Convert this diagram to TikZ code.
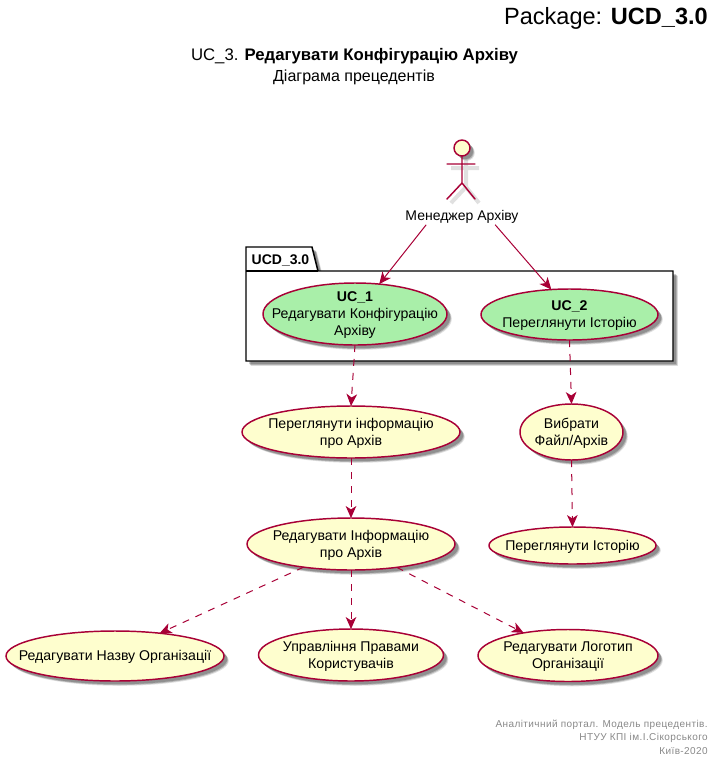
\documentclass[tikz,border=0pt]{standalone}
\usepackage{fontspec}
\setmainfont{Liberation Sans}
\usetikzlibrary{arrows.meta,shapes.geometric,shadows}
\definecolor{pumlred}{HTML}{A80036}
\definecolor{pumlyellow}{HTML}{FEFECE}
\definecolor{pumlgreen}{HTML}{A9EFA9}
\definecolor{footgray}{HTML}{888888}
\tikzset{
  softshadow/.style={
    drop shadow={shadow xshift=3.6pt,shadow yshift=-3.6pt,opacity=.12,fill=black},
    drop shadow={shadow xshift=3pt,shadow yshift=-3pt,opacity=.2,fill=black},
    drop shadow={shadow xshift=2.4pt,shadow yshift=-2.4pt,opacity=.2,fill=black}},
  uctext/.style={inner sep=0pt,align=center,yshift=-.75pt,font=\fontsize{10.6pt}{12.6pt}\selectfont},
  uc/.style 2 args={ellipse,draw=pumlred,line width=1.1pt,fill=pumlyellow,softshadow,
    inner sep=0pt,outer sep=0pt,minimum width=#1*1.5pt,minimum height=#2*1.5pt},
  ucgreen/.style={fill=pumlgreen},
  rel/.style={draw=pumlred,line width=.75pt,-{Stealth[length=9pt,width=8pt,inset=2.6pt,fill=pumlred]}},
  reldash/.style={rel,dash pattern=on 5.25pt off 5.25pt},
  plain/.style={inner sep=0pt,align=center,font=\fontsize{10.5pt}{12.6pt}\selectfont},
  foot/.style={inner sep=0pt,anchor=east,text=footgray,font=\fontsize{7.5pt}{9pt}\selectfont\addfontfeature{LetterSpace=4.2}},
  pkg/.style={draw=black,line width=1.1pt,fill=white,softshadow},
  actorline/.style={draw=pumlred,line width=1.1pt,line cap=round},
  actorshade/.style={draw=black!12,line width=3pt}
}
\begin{document}
\begin{tikzpicture}[x=.75pt,y=-.75pt]
\useasboundingbox (0,0) rectangle (719,765);
% titles
\node[inner sep=0pt,anchor=east,font=\fontsize{17.65pt}{20pt}\selectfont] (hdr) at (708,18.5) {Package: \textbf{UCD\_3.0}};
\node[inner sep=0pt,font=\fontsize{12.55pt}{16pt}\selectfont] (ttl) at (354.5,56) {UC\_3. \textbf{Редагувати Конфігурацію Архіву}};
\node[plain,font=\fontsize{12pt}{14pt}\selectfont] (sub) at (354,77) {Діаграма прецедентів};
% package
\path[pkg] (246,271) -- (246,247) -- (312,247) -- (318,271) -- (673,271) -- (673,361) -- (246,361) -- cycle;
\draw[draw=black,line width=1.1pt] (246,271) -- (318,271);
\node[inner sep=0pt,font=\fontsize{10.5pt}{12pt}\selectfont\bfseries] (pkgname) at (280.5,260) {UCD\_3.0};
% actor
\begin{scope}[shift={(4,4)}]
  \draw[actorshade] (462,156) -- (462,183) (447,164) -- (475,164) (447,199) -- (462,183) -- (475,199);
\end{scope}
\draw[actorline,fill=pumlyellow,softshadow] (462,148) circle[radius=8];
\draw[actorline] (462,156) -- (462,183) (447,164) -- (475,164) (447,199) -- (462,183) -- (475,199);
\node[plain,minimum height=12pt] (mgr) at (462,216.5) {Менеджер Архіву};
% use cases
\node[uc={92}{31},ucgreen,label={[uctext]center:{\textbf{UC\_1}\\Редагувати Конфігурацію\\Архіву}}] (uc1) at (355,314) {};
\node[uc={88.5}{25.5},ucgreen,label={[uctext]center:{\textbf{UC\_2}\\Переглянути Історію}}] (uc2) at (569.5,314.5) {};
\node[uc={109}{26},label={[uctext]center:{Переглянути інформацію\\про Архів}}] (viewinfo) at (351,432) {};
\node[uc={51.5}{28},label={[uctext]center:{Вибрати\\Файл/Архів}}] (choose) at (571.5,432) {};
\node[uc={104}{26},label={[uctext]center:{Редагувати Інформацію\\про Архів}}] (editinfo) at (351,544) {};
\node[uc={83.5}{18.5},label={[uctext]center:{Переглянути Історію}}] (history) at (572.5,545.5) {};
\node[uc={109}{25},label={[uctext]center:{Редагувати Назву Організації}}] (orgname) at (115,656) {};
\node[uc={92.5}{26},label={[uctext]center:{Управління Правами\\Користувачів}}] (rights) at (351,655) {};
\node[uc={90}{26},label={[uctext]center:{Редагувати Логотип\\Організації}}] (logo) at (568,655.5) {};
% connectors
\draw[rel] (mgr.-167) -- (uc1.51);
\draw[rel] (mgr.-14) -- (uc2.126);
\draw[reldash] (uc1.south) -- (viewinfo.north);
\draw[reldash] (uc2.south) -- (choose.north);
\draw[reldash] (viewinfo.south) -- (editinfo.north);
\draw[reldash] (choose.south) -- (history.north);
\draw[reldash] (editinfo.206) -- (orgname.27);
\draw[reldash] (editinfo.south) -- (rights.north);
\draw[reldash] (editinfo.-27.6) -- (logo.153);
% footer
\node[foot] (f1) at (708,724.5) {Аналітичний портал. Модель прецедентів.};
\node[foot] (f2) at (708,738) {НТУУ КПІ ім.І.Сікорського};
\node[foot] (f3) at (708,751) {Київ-2020};
\end{tikzpicture}
\end{document}
